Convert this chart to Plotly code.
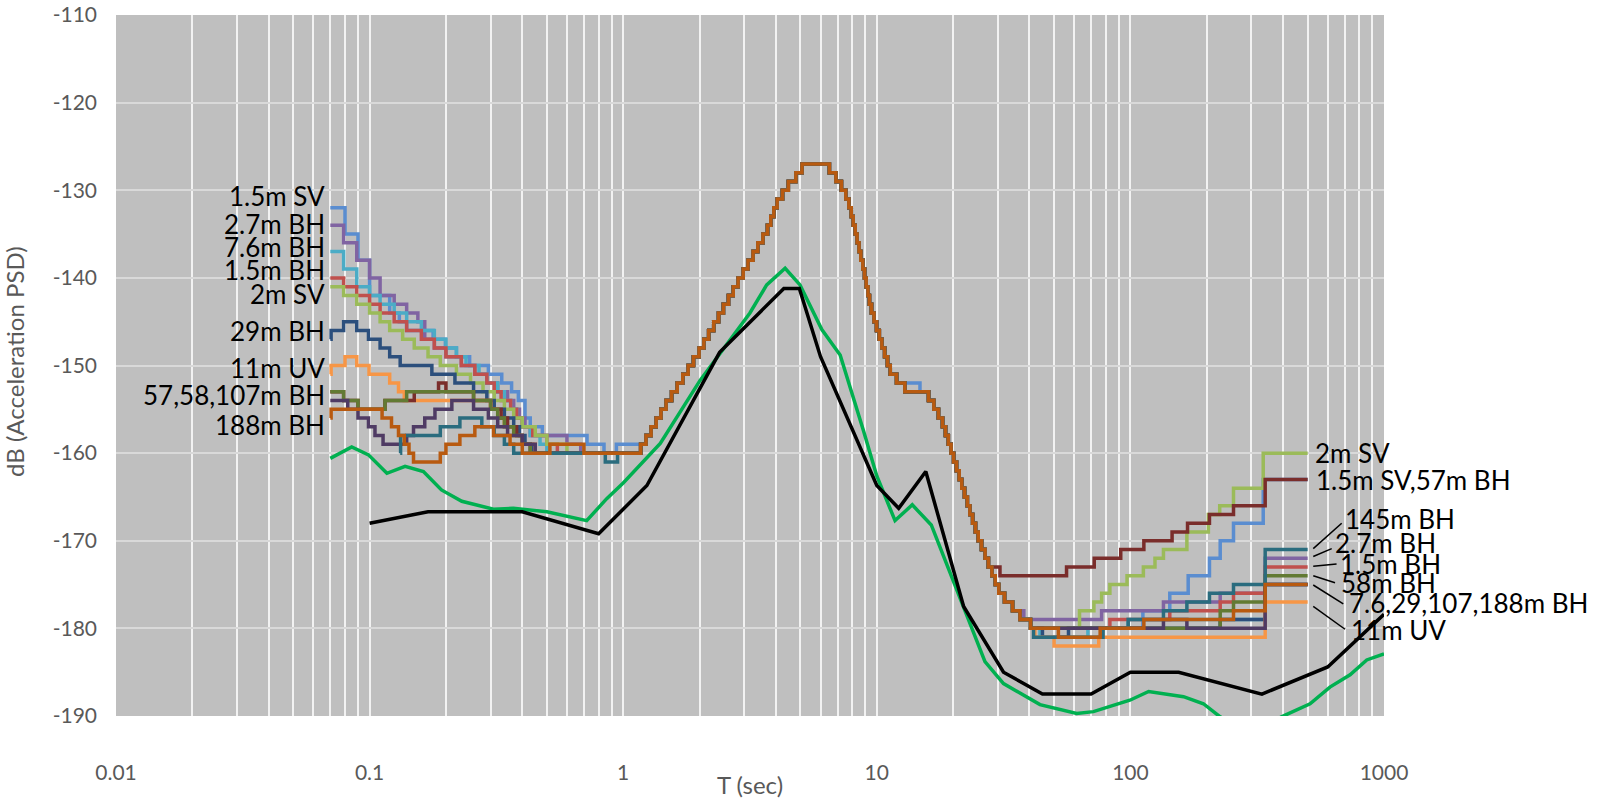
import math
import plotly.graph_objects as go

# ---------------- axis ticks ----------------
X_TICKS = [0.01, 0.1, 1, 10, 100, 1000]
X_TICK_TEXT = ["0.01", "0.1", "1", "10", "100", "1000"]
Y_TICKS = [-110, -120, -130, -140, -150, -160, -170, -180, -190]
Y_TICK_TEXT = ["-110", "-120", "-130", "-140", "-150", "-160", "-170", "-180", "-190"]

# ---------------- shared segments of the measured (stepped) curves ----------------
RISE_T = [1.172, 1.230, 1.288, 1.349, 1.409, 1.476, 1.552, 1.633, 1.718, 1.803, 1.892, 1.991,
          2.080, 2.173, 2.275, 2.377, 2.483, 2.600, 2.716, 2.838, 2.972, 3.105, 3.251, 3.396,
          3.556, 3.707, 3.819, 3.926, 4.046, 4.246, 4.477, 4.797, 5.070]
RISE_DB = [-159, -158, -157, -156, -155, -154, -153, -152, -151, -150, -149, -148,
           -147, -146, -145, -144, -143, -142, -141, -140, -139, -138, -137, -136,
           -135, -134, -133, -132, -131, -130, -129, -128, -127]

FALL_A_T = [6.5, 6.9, 7.25, 7.55, 7.76, 7.93, 8.07, 8.22, 8.36, 8.51, 8.65, 8.81, 8.95,
            9.08, 9.23, 9.35, 9.53, 9.75, 9.98, 10.23, 10.47, 10.74, 11.02, 11.30, 11.97]
FALL_A_DB = [-128, -129, -130, -131, -132, -133, -134, -135, -136, -137, -138, -139, -140,
             -141, -142, -143, -144, -145, -146, -147, -148, -149, -150, -151, -152]

MID_T = [12.9]
BLUE_MID_T = [14.8]
MID_DB = [-153]

FALL_B_T = [16.0, 16.79, 17.50, 18.16, 18.66, 19.14, 19.63, 20.09, 20.61, 21.13, 21.63, 22.18,
            22.75, 23.28, 23.88, 24.49, 25.12, 25.88, 26.73, 27.54, 28.44, 29.31, 30.27]
FALL_B_DB = [-154, -155, -156, -157, -158, -159, -160, -161, -162, -163, -164, -165,
             -166, -167, -168, -169, -170, -171, -172, -173, -174, -175, -176]

# ---------------- per-series short-period heads and long-period tails ----------------
SV15_HEAD_T = [0.07, 0.080, 0.090, 0.100, 0.120, 0.131, 0.140, 0.178, 0.199, 0.22, 0.248, 0.294,
               0.332, 0.363, 0.386, 0.41, 0.43, 0.48, 0.72, 0.84, 0.94]
SV15_HEAD_DB = [-132, -135, -138, -142, -144, -145, -146, -147, -148, -149, -150, -151,
                -152, -153, -154, -156, -157, -158, -159, -160, -159]
SV15_TAIL_T = [31.9, 34.3, 36.7, 40.4, 112, 143, 169, 205, 226, 255, 334, 500]
SV15_TAIL_DB = [-177, -178, -179, -180, -178, -176, -174, -172, -170, -168, -163, -163]

BH27_HEAD_T = [0.07, 0.079, 0.089, 0.1, 0.11, 0.125, 0.14, 0.155, 0.165, 0.18, 0.2, 0.23, 0.26,
               0.29, 0.32, 0.35, 0.37, 0.39, 0.41, 0.43, 0.60, 0.68]
BH27_HEAD_DB = [-134, -136, -138, -140, -142, -143, -144, -145, -147, -148, -149, -150, -151,
                -152, -153, -154, -155, -156, -157, -158, -159, -160]
BH27_TAIL_T = [31.9, 34.3, 38.0, 77, 135, 226, 340, 500]
BH27_TAIL_DB = [-177, -178, -179, -178, -177, -176, -172, -172]

BH76_HEAD_T = [0.07, 0.079, 0.089, 0.1, 0.11, 0.125, 0.14, 0.16, 0.18, 0.2, 0.22, 0.24, 0.27,
               0.29, 0.32, 0.34, 0.36, 0.38, 0.40, 0.43, 0.47, 0.50]
BH76_HEAD_DB = [-137, -139, -141, -142, -143, -144, -145, -146, -147, -148, -149, -150, -151,
                -152, -153, -154, -155, -156, -157, -158, -159, -160]
BH76_TAIL_T = [31.9, 34.3, 36.7, 40.4, 44, 68, 98, 340, 500]
BH76_TAIL_DB = [-177, -178, -179, -180, -181, -180, -179, -175, -175]

BH15_HEAD_T = [0.07, 0.079, 0.089, 0.1, 0.11, 0.125, 0.14, 0.16, 0.18, 0.2, 0.23, 0.26, 0.29,
               0.31, 0.33, 0.36, 0.38, 0.40, 0.44, 0.5, 0.55]
BH15_HEAD_DB = [-140, -141, -142, -143, -144, -145, -146, -147, -148, -149, -150, -151, -152,
                -153, -154, -155, -156, -157, -158, -159, -160]
BH15_TAIL_T = [31.9, 34.3, 36.7, 40.4, 83, 143, 226, 255, 340, 500]
BH15_TAIL_DB = [-177, -178, -179, -180, -179, -178, -177, -176, -173, -173]

SV2_HEAD_T = [0.07, 0.079, 0.089, 0.1, 0.11, 0.12, 0.135, 0.15, 0.17, 0.19, 0.22, 0.25, 0.28,
              0.31, 0.34, 0.37, 0.40, 0.45, 0.5, 0.6]
SV2_HEAD_DB = [-141, -142, -143, -144, -145, -146, -147, -148, -149, -150, -151, -152, -153,
               -154, -155, -156, -157, -158, -159, -160]
SV2_TAIL_T = [31.9, 34.3, 36.7, 40.4, 63, 71.8, 77, 83, 97, 112.5, 125, 135, 167, 203, 225,
              255, 334, 500]
SV2_TAIL_DB = [-177, -178, -179, -180, -178, -177, -176, -175, -174, -173, -172, -171, -169,
               -167, -166, -164, -160, -160]

BH29_HEAD_T = [0.07, 0.0705, 0.079, 0.089, 0.099, 0.11, 0.12, 0.132, 0.176, 0.217, 0.257, 0.29,
               0.31, 0.34, 0.37, 0.39, 0.41, 0.44]
BH29_HEAD_DB = [-147, -146, -145, -146, -147, -148, -149, -150, -151, -152, -153, -154,
                -155, -156, -157, -158, -159, -160]
BH29_TAIL_T = [31.9, 34.3, 36.7, 40.4, 45, 57, 226, 340, 500]
BH29_TAIL_DB = [-177, -178, -179, -180, -181, -180, -179, -175, -175]

UV11_HEAD_T = [0.07, 0.0705, 0.08, 0.089, 0.0995, 0.12, 0.13, 0.137, 0.30, 0.32, 0.34, 0.37,
               0.40, 0.45]
UV11_HEAD_DB = [-151, -150, -149, -150, -151, -152, -153, -154, -155, -156, -157, -158,
                -159, -160]
UV11_TAIL_T = [31.9, 34.3, 36.7, 40.4, 42, 50, 75, 340, 500]
UV11_TAIL_DB = [-177, -178, -179, -180, -181, -182, -181, -177, -177]

BH57_HEAD_T = [0.07, 0.079, 0.090, 0.115, 0.15, 0.187, 0.2, 0.257, 0.3, 0.33, 0.35, 0.38,
               0.40, 0.43]
BH57_HEAD_DB = [-153, -154, -155, -154, -153, -152, -153, -154, -155, -156, -157, -158,
                -159, -160]
BH57_TAIL_T = [30.6, 56, 72, 91.6, 113, 146, 168, 205, 255, 340, 500]
BH57_TAIL_DB = [-174, -173, -172, -171, -170, -169, -168, -167, -166, -163, -163]

BH58_HEAD_T = [0.07, 0.079, 0.090, 0.115, 0.14, 0.257, 0.30, 0.32, 0.34, 0.37, 0.40, 0.43]
BH58_HEAD_DB = [-153, -154, -155, -154, -153, -154, -155, -156, -157, -158, -159, -160]
BH58_TAIL_T = [31.9, 34.3, 36.7, 40.4, 226, 255, 340, 500]
BH58_TAIL_DB = [-177, -178, -179, -180, -178, -177, -174, -174]

BH107_HEAD_T = [0.07, 0.082, 0.090, 0.099, 0.105, 0.113, 0.14, 0.149, 0.165, 0.181, 0.211,
                0.257, 0.294, 0.32, 0.35, 0.40, 0.45]
BH107_HEAD_DB = [-154, -155, -156, -157, -158, -159, -158, -157, -156, -155, -154,
                 -155, -156, -157, -158, -159, -160]
BH107_TAIL_T = [31.9, 34.3, 36.7, 40.4, 135, 167, 340, 500]
BH107_TAIL_DB = [-177, -178, -179, -180, -179, -180, -175, -175]

BH145_HEAD_T = [0.132, 0.1325, 0.19, 0.227, 0.277, 0.31, 0.34, 0.37, 0.85, 0.95]
BH145_HEAD_DB = [-160, -158, -157, -156, -157, -158, -159, -160, -161, -160]
BH145_TAIL_T = [31.9, 34.3, 36.7, 40.4, 41.5, 78, 98, 135, 167, 205, 255, 340, 500]
BH145_TAIL_DB = [-177, -178, -179, -180, -181, -180, -179, -178, -177, -176, -175, -171, -171]

BH188_HEAD_T = [0.07, 0.0705, 0.112, 0.122, 0.13, 0.137, 0.143, 0.149, 0.19, 0.2, 0.227, 0.26,
                0.308, 0.358, 0.40, 0.514, 0.70]
BH188_HEAD_DB = [-156, -155, -156, -157, -158, -159, -160, -161, -160, -159, -158, -157,
                 -158, -159, -160, -159, -160]
BH188_TAIL_T = [31.9, 34.3, 36.7, 40.4, 52, 76, 113, 255, 340, 500]
BH188_TAIL_DB = [-177, -178, -179, -180, -181, -180, -179, -178, -175, -175]

# ---------------- reference models (smooth lines) ----------------
NLNM_T = [0.1, 0.17, 0.4, 0.8, 1.24, 2.4, 4.3, 4.95, 6.0, 10, 12.2, 15.6, 22, 31.6, 45, 70,
          100, 155, 330, 600, 1000]
NLNM_DB = [-168.0, -166.7, -166.7, -169.2, -163.7, -148.5, -141.2, -141.2, -149.0, -163.7,
           -166.3, -162.1, -177.5, -185.0, -187.5, -187.5, -185.0, -185.0, -187.5, -184.4, -178.4]

MODEL_T = [0.07, 0.085, 0.099, 0.11, 0.117, 0.138, 0.163, 0.192, 0.231, 0.308, 0.369, 0.5,
           0.718, 0.861, 1.0, 1.4, 2.01, 3.16, 3.68, 4.35, 4.98, 6.07, 7.17, 8.85, 10.0, 11.8,
           13.8, 16.4, 20.0, 26.7, 31.6, 44, 61.4, 71.5, 99.5, 118, 162, 194, 226, 300, 394,
           511, 612, 735, 855, 1000]
MODEL_DB = [-160.6, -159.3, -160.2, -161.5, -162.3, -161.5, -162.1, -164.2, -165.5, -166.4,
            -166.3, -166.7, -167.7, -165.2, -163.4, -158.9, -151.7, -144.0, -140.8, -138.9,
            -140.8, -145.9, -148.8, -157.4, -162.6, -167.7, -165.9, -168.2, -174.5, -183.8,
            -186.3, -188.7, -189.7, -189.5, -188.2, -187.2, -187.8, -188.6, -190.1, -192.0,
            -190.1, -188.6, -186.7, -185.3, -183.6, -182.9]

# ---------------- colours ----------------
C_SV15 = "#5A8DD0"
C_BH27 = "#8064A2"
C_BH76 = "#4BACC6"
C_BH15 = "#C0504D"
C_SV2 = "#9BBB59"
C_BH29 = "#2C4F7C"
C_UV11 = "#F79646"
C_BH57 = "#7A2D2B"
C_BH58 = "#627A33"
C_BH107 = "#4F3B64"
C_BH145 = "#2A6C7E"
C_BH188 = "#B85A10"


def build(head_t, head_db, tail_t, tail_db, mid_t=MID_T, fall_b_n=len(FALL_B_T)):
    t = head_t + RISE_T + FALL_A_T + mid_t + FALL_B_T[:fall_b_n] + tail_t
    d = head_db + RISE_DB + FALL_A_DB + MID_DB + FALL_B_DB[:fall_b_n] + tail_db
    return t, d


series = [
    ("1.5m SV", C_SV15, build(SV15_HEAD_T, SV15_HEAD_DB, SV15_TAIL_T, SV15_TAIL_DB, BLUE_MID_T)),
    ("2.7m BH", C_BH27, build(BH27_HEAD_T, BH27_HEAD_DB, BH27_TAIL_T, BH27_TAIL_DB)),
    ("7.6m BH", C_BH76, build(BH76_HEAD_T, BH76_HEAD_DB, BH76_TAIL_T, BH76_TAIL_DB)),
    ("1.5m BH", C_BH15, build(BH15_HEAD_T, BH15_HEAD_DB, BH15_TAIL_T, BH15_TAIL_DB)),
    ("2m SV", C_SV2, build(SV2_HEAD_T, SV2_HEAD_DB, SV2_TAIL_T, SV2_TAIL_DB)),
    ("29m BH", C_BH29, build(BH29_HEAD_T, BH29_HEAD_DB, BH29_TAIL_T, BH29_TAIL_DB)),
    ("11m UV", C_UV11, build(UV11_HEAD_T, UV11_HEAD_DB, UV11_TAIL_T, UV11_TAIL_DB)),
    ("57m BH", C_BH57, build(BH57_HEAD_T, BH57_HEAD_DB, BH57_TAIL_T, BH57_TAIL_DB, MID_T, 20)),
    ("58m BH", C_BH58, build(BH58_HEAD_T, BH58_HEAD_DB, BH58_TAIL_T, BH58_TAIL_DB)),
    ("107m BH", C_BH107, build(BH107_HEAD_T, BH107_HEAD_DB, BH107_TAIL_T, BH107_TAIL_DB)),
    ("145m BH", C_BH145, build(BH145_HEAD_T, BH145_HEAD_DB, BH145_TAIL_T, BH145_TAIL_DB)),
    ("188m BH", C_BH188, build(BH188_HEAD_T, BH188_HEAD_DB, BH188_TAIL_T, BH188_TAIL_DB)),
]

fig = go.Figure()
for name, color, (t, d) in series:
    fig.add_trace(go.Scatter(x=t, y=d, mode="lines", name=name, showlegend=False,
                             line=dict(color=color, width=3.5, shape="hv")))

fig.add_trace(go.Scatter(x=MODEL_T, y=MODEL_DB, mode="lines", showlegend=False,
                         line=dict(color="#00B050", width=3.5)))
fig.add_trace(go.Scatter(x=NLNM_T, y=NLNM_DB, mode="lines", showlegend=False,
                         line=dict(color="#000000", width=3.5)))

LBL_FONT = dict(family="Lato", size=26, color="#000000")
AX_FONT = dict(family="Lato", size=21, color="#595959")
TITLE_FONT = dict(family="Lato", size=24, color="#595959")

# left labels (right aligned at series start T=0.07)
LEFT_LABELS = ["1.5m SV", "2.7m BH", "7.6m BH", "1.5m BH", "2m SV", "29m BH", "11m UV",
               "57,58,107m BH", "188m BH"]
LEFT_LABEL_DB = [-130.7, -133.8, -136.5, -139.1, -141.8, -146.1, -150.3, -153.4, -156.8]

annotations = []
for txt, yv in zip(LEFT_LABELS, LEFT_LABEL_DB):
    annotations.append(dict(x=math.log10(0.07), y=yv, xref="x", yref="y", text=txt,
                            showarrow=False, xanchor="right", yanchor="middle",
                            xshift=-3, font=LBL_FONT))

RIGHT_LABELS = ["2m SV", "1.5m SV,57m BH", "145m BH", "2.7m BH", "1.5m BH", "58m BH",
                "7.6,29,107,188m BH", "11m UV"]
RIGHT_LABEL_T = [523, 531, 689, 628, 657, 665, 713, 730]
RIGHT_LABEL_DB = [-160.0, -163.1, -167.55, -170.2, -172.6, -174.8, -177.1, -180.2]
for txt, tv, yv in zip(RIGHT_LABELS, RIGHT_LABEL_T, RIGHT_LABEL_DB):
    annotations.append(dict(x=math.log10(tv), y=yv, xref="x", yref="y", text=txt,
                            showarrow=False, xanchor="left", yanchor="middle",
                            font=LBL_FONT))

# leader lines for the crowded right-hand labels
LEADER_T0 = [526, 526, 526, 526, 526, 526]
LEADER_DB0 = [-170.9, -171.8, -172.9, -174.0, -175.05, -177.5]
LEADER_T1 = [681, 622, 650, 641, 691, 702]
LEADER_DB1 = [-168.0, -170.9, -172.65, -174.8, -177.2, -180.1]
shapes = []
for x0, y0, x1, y1 in zip(LEADER_T0, LEADER_DB0, LEADER_T1, LEADER_DB1):
    shapes.append(dict(type="line", xref="x", yref="y", x0=x0, y0=y0, x1=x1, y1=y1,
                       line=dict(color="#000000", width=1.5)))

# axis titles
annotations.append(dict(x=0.5, y=-68 / 701, xref="paper", yref="paper", text="T (sec)",
                        showarrow=False, xanchor="center", yanchor="middle", font=TITLE_FONT))
annotations.append(dict(x=(15 - 116) / 1268, y=(716 - 362) / 701, xref="paper", yref="paper",
                        text="dB (Acceleration PSD)", textangle=-90, showarrow=False,
                        xanchor="center", yanchor="middle", font=TITLE_FONT))

fig.update_layout(
    width=1605, height=799,
    margin=dict(l=116, r=221, t=15, b=83, autoexpand=False),
    paper_bgcolor="#FFFFFF", plot_bgcolor="#BFBFBF",
    annotations=annotations, shapes=shapes,
    showlegend=False,
)
fig.update_xaxes(type="log", range=[-2, 3], tickmode="array", tickvals=X_TICKS,
                 ticktext=X_TICK_TEXT, showgrid=True, gridcolor="#F2F2F2", gridwidth=2,
                 minor=dict(dtick="D1", showgrid=True, gridcolor="#F2F2F2", gridwidth=2),
                 zeroline=False, showline=False, ticks="", tickfont=AX_FONT,
                 ticklabelstandoff=42, automargin=False)
fig.update_yaxes(range=[-190, -110], tickmode="array", tickvals=Y_TICKS, ticktext=Y_TICK_TEXT,
                 showgrid=True, gridcolor="#D9D9D9", gridwidth=2, zeroline=False,
                 showline=False, ticks="", tickfont=AX_FONT, ticklabelstandoff=18,
                 automargin=False, ticklabeloverflow="allow")

# remove the default page margin so the figure fills the window exactly
fig.write_html("out.html", config={"displayModeBar": False},
               post_script="document.body.style.margin='0';document.body.style.overflow='hidden';")
